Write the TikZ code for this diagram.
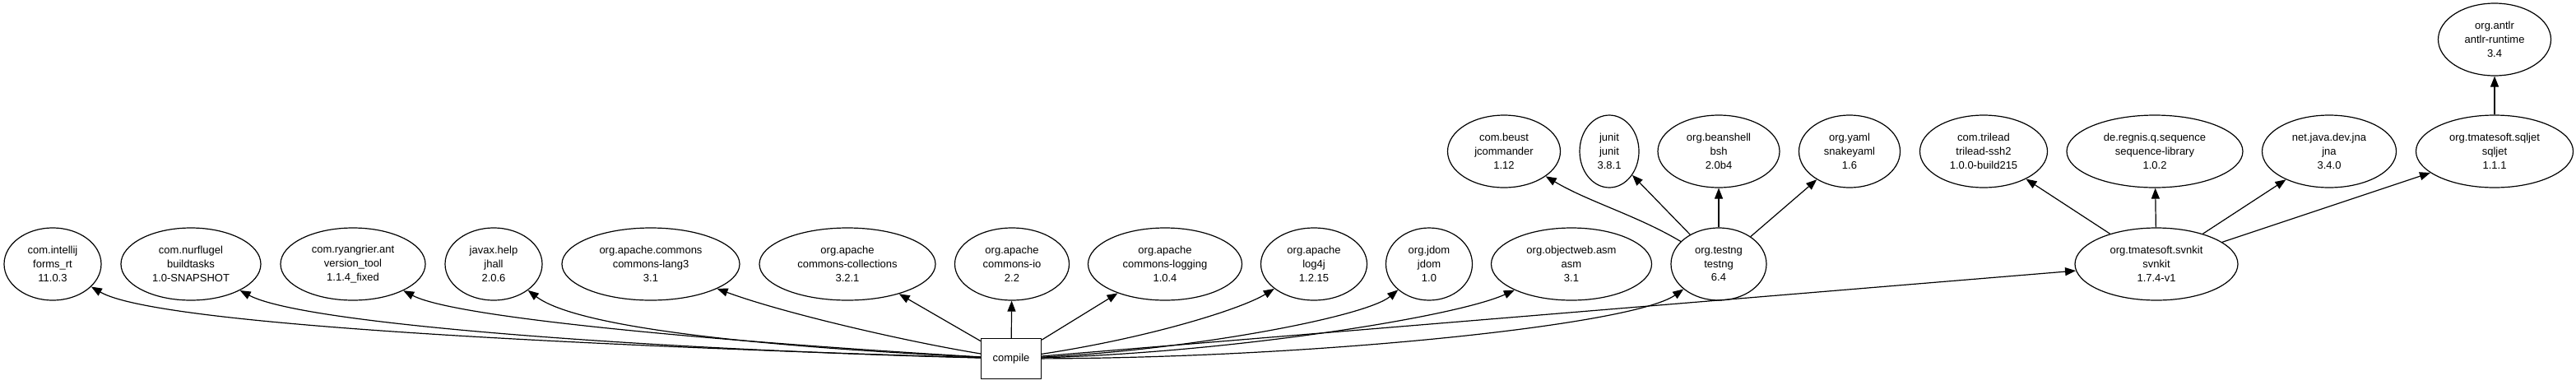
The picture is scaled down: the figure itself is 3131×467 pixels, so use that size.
\documentclass[tikz,border=0pt]{standalone}
\usepackage{fontspec}
\setmainfont{Liberation Sans}
\usetikzlibrary{shapes.geometric,arrows.meta}
\begin{document}
\begin{tikzpicture}[x=1pt,y=-1pt,
  dep/.style={ellipse,draw,line width=1.2pt,inner sep=0pt,minimum height=88pt,align=center,font=\fontsize{13}{16.8}\selectfont},
  task/.style={rectangle,draw,line width=1.2pt,inner sep=0pt,minimum width=73pt,minimum height=49pt,font=\fontsize{13}{16.8}\selectfont},
  arr/.style={line width=1.2pt,-{Triangle[length=13pt,width=10pt]}}]
\useasboundingbox (0,0) rectangle (3131,467);
% bottom row
\node[dep,minimum width=118pt] (intellij) at (64,321) {com.intellij\\forms\_rt\\11.0.3};
\node[dep,minimum width=170pt] (nurflugel) at (232,321) {com.nurflugel\\buildtasks\\1.0-SNAPSHOT};
\node[dep,minimum width=176pt] (ryangrier) at (429,321) {com.ryangrier.ant\\version\_tool\\1.1.4\_fixed};
\node[dep,minimum width=118pt] (javax) at (600,321) {javax.help\\jhall\\2.0.6};
\node[dep,minimum width=216pt] (lang3) at (791,321) {org.apache.commons\\commons-lang3\\3.1};
\node[dep,minimum width=214pt] (collections) at (1030,321) {org.apache\\commons-collections\\3.2.1};
\node[dep,minimum width=139pt] (io) at (1230,321) {org.apache\\commons-io\\2.2};
\node[dep,minimum width=187pt] (logging) at (1416,321) {org.apache\\commons-logging\\1.0.4};
\node[dep,minimum width=129pt] (log4j) at (1597,321) {org.apache\\log4j\\1.2.15};
\node[dep,minimum width=105pt] (jdom) at (1737,321) {org.jdom\\jdom\\1.0};
\node[dep,minimum width=195pt] (asm) at (1910,321) {org.objectweb.asm\\asm\\3.1};
\node[dep,minimum width=116pt] (testng) at (2089,321) {org.testng\\testng\\6.4};
\node[dep,minimum width=198pt] (svnkit) at (2621,321) {org.tmatesoft.svnkit\\svnkit\\1.7.4-v1};
% middle row
\node[dep,minimum width=137pt] (beust) at (1828,184) {com.beust\\jcommander\\1.12};
\node[dep,minimum width=72pt] (junit) at (1956,184) {junit\\junit\\3.8.1};
\node[dep,minimum width=148pt] (beanshell) at (2089,184) {org.beanshell\\bsh\\2.0b4};
\node[dep,minimum width=123pt] (yaml) at (2248,184) {org.yaml\\snakeyaml\\1.6};
\node[dep,minimum width=155pt] (trilead) at (2411,184) {com.trilead\\trilead-ssh2\\1.0.0-build215};
\node[dep,minimum width=214pt] (regnis) at (2619,184) {de.regnis.q.sequence\\sequence-library\\1.0.2};
\node[dep,minimum width=163pt] (jna) at (2831,184) {net.java.dev.jna\\jna\\3.4.0};
\node[dep,minimum width=191pt] (sqljet) at (3032,184) {org.tmatesoft.sqljet\\sqljet\\1.1.1};
% top
\node[dep,minimum width=137pt] (antlr) at (3032,48) {org.antlr\\antlr-runtime\\3.4};
% root
\node[task] (compile) at (1229,436) {compile};

% edges from compile
\draw[arr] (compile) .. controls (700,420) and (190,395) .. (intellij);
\draw[arr] (compile) .. controls (800,425) and (370,395) .. (nurflugel);
\draw[arr] (compile) .. controls (950,420) and (560,390) .. (ryangrier);
\draw[arr] (compile) .. controls (1000,425) and (710,405) .. (javax);
\draw[arr] (compile) .. controls (1100,415) and (950,380) .. (lang3);
\draw[arr] (compile) -- (collections);
\draw[arr] (compile) -- (io);
\draw[arr] (compile) -- (logging);
\draw[arr] (compile) .. controls (1400,410) and (1510,375) .. (log4j);
\draw[arr] (compile) .. controls (1450,425) and (1660,385) .. (jdom);
\draw[arr] (compile) .. controls (1500,428) and (1770,385) .. (asm);
\draw[arr] (compile) .. controls (1600,435) and (1985,395) .. (testng);
\draw[arr] (compile) -- (svnkit);
% testng deps
\draw[arr] (testng) .. controls (1990,262) and (1930,245) .. (beust);
\draw[arr] (testng) -- (junit);
\draw[arr] (testng) -- (beanshell);
\draw[arr] (testng) -- (yaml);
% svnkit deps
\draw[arr] (svnkit) -- (trilead);
\draw[arr] (svnkit) -- (regnis);
\draw[arr] (svnkit) -- (jna);
\draw[arr] (svnkit) -- (sqljet);
\draw[arr] (sqljet) -- (antlr);
\end{tikzpicture}
\end{document}
